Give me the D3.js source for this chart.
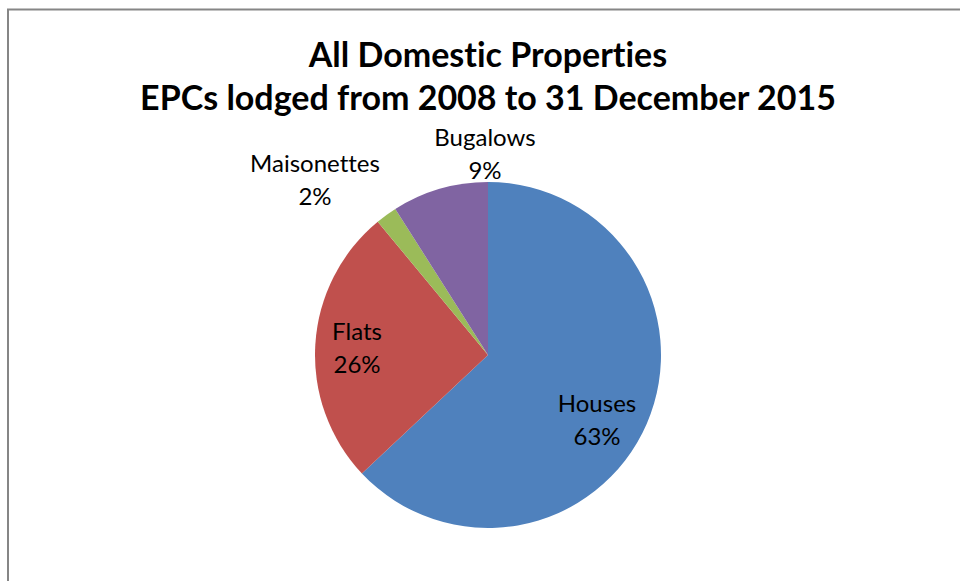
<!DOCTYPE html>
<html>
<head>
<meta charset="utf-8">
<script src="https://cdn.jsdelivr.net/npm/d3@7"></script>
<style>
  html, body { margin: 0; padding: 0; background: #fff; }
  svg { display: block; }
  text { font-family: "Lato", "Open Sans", sans-serif; fill: #000; font-variant-ligatures: none; }
</style>
</head>
<body>
<svg id="chart" width="960" height="581"></svg>
<script>
// Share of EPCs by property type
const categories = ["Houses", "Flats", "Maisonettes", "Bugalows"];
const shares = [63, 26, 2, 9];
const colors = ["#4F81BD", "#C0504D", "#9BBB59", "#8064A2"];
const titleLines = ["All Domestic Properties", "EPCs lodged from 2008 to 31 December 2015"];

const data = categories.map((c, i) => ({ name: c, value: shares[i], color: colors[i] }));

const svg = d3.select("#chart");
const W = 960, H = 581;

// chart frame (extends past right and bottom edges)
svg.append("rect")
  .attr("x", 8).attr("y", 9.5)
  .attr("width", W + 20).attr("height", H + 20)
  .attr("fill", "#fff")
  .attr("stroke", "#868686")
  .attr("stroke-width", 2);

// title
svg.append("g").selectAll("text")
  .data(titleLines)
  .join("text")
  .attr("x", 488)
  .attr("y", (d, i) => 67 + i * 43)
  .attr("text-anchor", "middle")
  .attr("font-size", 34)
  .attr("font-weight", 700)
  .text(d => d);

const cx = 488, cy = 355, r = 173;

const pie = d3.pie().sort(null).value(d => d.value);
const arc = d3.arc().innerRadius(0).outerRadius(r);
const arcs = pie(data);

const g = svg.append("g").attr("transform", `translate(${cx},${cy})`);
g.selectAll("path")
  .data(arcs)
  .join("path")
  .attr("d", arc)
  .attr("fill", d => d.data.color);

// label anchor positions relative to pie centre (first line baseline)
const labelPos = {
  "Houses": [109, 57],
  "Flats": [-131, -15],
  "Maisonettes": [-173, -183],
  "Bugalows": [-3, -209]
};

const labels = g.selectAll("g.lbl")
  .data(arcs)
  .join("g")
  .attr("class", "lbl")
  .attr("transform", d => `translate(${labelPos[d.data.name][0]},${labelPos[d.data.name][1]})`);

labels.append("text")
  .attr("text-anchor", "middle")
  .attr("font-size", 24)
  .text(d => d.data.name);
labels.append("text")
  .attr("text-anchor", "middle")
  .attr("font-size", 24)
  .attr("y", 33)
  .text(d => Math.round((d.endAngle - d.startAngle) / (2 * Math.PI) * 100) + "%");
</script>
</body>
</html>
